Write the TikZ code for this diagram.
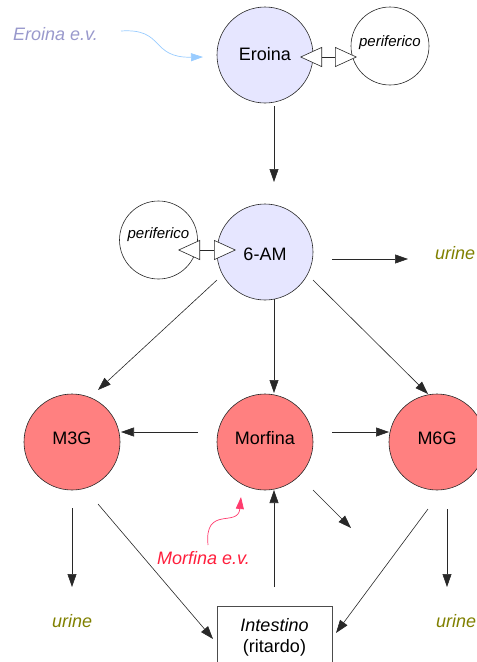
\documentclass[tikz,border=0pt]{standalone}
\usepackage{fontspec}
\setmainfont{Liberation Sans}
\usetikzlibrary{arrows.meta}
\definecolor{lav}{RGB}{230,230,255}
\definecolor{mred}{RGB}{255,128,128}
\definecolor{olivetxt}{RGB}{128,128,0}
\definecolor{evblue}{RGB}{153,153,204}
\definecolor{arrblue}{RGB}{153,204,255}
\definecolor{evred}{RGB}{255,30,60}
\definecolor{arrred}{RGB}{255,60,110}
\definecolor{edge}{RGB}{40,40,40}
\tikzset{
  bigfont/.style={font=\fontsize{18}{21.6}\selectfont},
  blob/.style={circle, draw=edge, line width=0.6pt, minimum size=96pt, inner sep=0pt},
  heroin/.style={blob, fill=lav},
  morph/.style={blob, fill=mred},
  perif/.style={circle, draw=edge, line width=0.6pt, fill=white, minimum size=78pt, inner sep=0pt},
  conn/.style={draw=edge, line width=0.6pt, -{Triangle[length=13pt,width=9pt]}},
  dbl/.style={draw=edge, line width=0.6pt, {Triangle[length=22pt,width=20pt,fill=white]}-{Triangle[length=22pt,width=20pt,fill=white]}},
  urinetxt/.style={font=\fontsize{18}{21.6}\selectfont\itshape, text=olivetxt, anchor=base west, inner sep=0pt},
}
\begin{document}
\begin{tikzpicture}[x=1pt,y=-1pt]
\useasboundingbox (0,0) rectangle (477,662);
\clip (0,0) rectangle (477,662);

% circles
\node[heroin, label={[anchor=base, yshift=1pt, bigfont]center:Eroina}] (ero) at (265,55) {};
\node[perif, label={[anchor=base, yshift=3pt, font=\fontsize{15}{18}\selectfont\itshape]center:periferico}] (per1) at (390,46) {};
\node[heroin, label={[anchor=base, yshift=-2pt, bigfont]center:6-AM}] (am) at (265,252) {};
\node[perif, label={[anchor=base, yshift=5pt, font=\fontsize{15}{18}\selectfont\itshape]center:periferico}] (per2) at (158.5,240) {};
\node[morph, label={[anchor=base, yshift=4pt, bigfont]center:M3G}] (m3g) at (72,442) {};
\node[morph, label={[anchor=base, yshift=4pt, bigfont]center:Morfina}] (mor) at (265,442) {};
\node[morph, label={[anchor=base, yshift=4pt, bigfont]center:M6G}] (m6g) at (437,442) {};

% intestine box
\node[draw=black!70, line width=0.8pt, minimum width=115pt, minimum height=80pt, anchor=north west, inner sep=0pt] (int) at (217,606) {};
\node[font=\fontsize{18}{21.6}\selectfont\itshape, anchor=base, inner sep=0pt] (intA) at (274.5,631) {Intestino};
\node[bigfont, anchor=base, inner sep=0pt] (intB) at (274.5,652) {(ritardo)};

% texts
\node[urinetxt] (u1) at (435,259) {urine};
\node[urinetxt] (u2) at (52,627) {urine};
\node[urinetxt] (u3) at (436,627) {urine};
\node[font=\fontsize{18}{21.6}\selectfont\itshape, text=evblue, anchor=base west, inner sep=0pt] (eev) at (13,40) {Eroina e.v.};
\node[font=\fontsize{18}{21.6}\selectfont\itshape, text=evred, anchor=base west, inner sep=0pt] (mev) at (157,564) {Morfina e.v.};

% connector coordinates
\coordinate (a1s) at (274,106); \coordinate (a1e) at (274,182);
\coordinate (a2s) at (332,259); \coordinate (a2e) at (408,259);
\coordinate (a3s) at (217,280); \coordinate (a3e) at (98,390);
\coordinate (a4s) at (274,299); \coordinate (a4e) at (274,393);
\coordinate (a5s) at (313,280); \coordinate (a5e) at (428,394);
\coordinate (a6s) at (198,432); \coordinate (a6e) at (121,432);
\coordinate (a7s) at (332,432); \coordinate (a7e) at (389,432);
\coordinate (a8s) at (313,490); \coordinate (a8e) at (351,528);
\coordinate (a9s) at (274,587); \coordinate (a9e) at (274,490);
\coordinate (a10s) at (72,508); \coordinate (a10e) at (72,587);
\coordinate (a11s) at (98,504); \coordinate (a11e) at (213,639);
\coordinate (a12s) at (428,509); \coordinate (a12e) at (336,633);
\coordinate (a13s) at (447,509); \coordinate (a13e) at (447,587);
\coordinate (d1s) at (300,57); \coordinate (d1e) at (357,57);
\coordinate (d2s) at (178,250); \coordinate (d2e) at (236,250);
\coordinate (ev1s) at (121,31); \coordinate (ev1e) at (203,57);
\coordinate (ev2s) at (208,545); \coordinate (ev2e) at (241,497);

\draw[conn] (a1s) -- (a1e);
\draw[conn] (a2s) -- (a2e);
\draw[conn] (a3s) -- (a3e);
\draw[conn] (a4s) -- (a4e);
\draw[conn] (a5s) -- (a5e);
\draw[conn] (a6s) -- (a6e);
\draw[conn] (a7s) -- (a7e);
\draw[conn] (a8s) -- (a8e);
\draw[conn] (a9s) -- (a9e);
\draw[conn] (a10s) -- (a10e);
\draw[conn] (a11s) -- (a11e);
\draw[conn] (a12s) -- (a12e);
\draw[conn] (a13s) -- (a13e);
\draw[dbl] (d1s) -- (d1e);
\draw[dbl] (d2s) -- (d2e);

\draw[arrblue, line width=0.7pt, -{Triangle[length=12pt,width=8pt]}] (ev1s) .. controls (165,28) and (150,58) .. (ev1e);
\draw[arrred, line width=0.7pt, -{Triangle[length=12pt,width=8pt]}] (ev2s) .. controls (204,505) and (238,528) .. (ev2e);
\end{tikzpicture}
\end{document}
